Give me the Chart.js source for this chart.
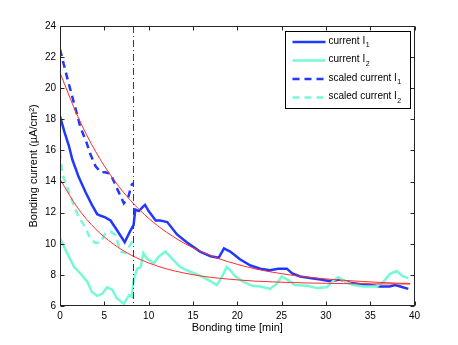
<!DOCTYPE html>
<html><head><meta charset="utf-8">
<script src="https://cdn.jsdelivr.net/npm/chart.js@4"></script>
<style>html,body{margin:0;padding:0;background:#fff;}#wrap{width:458px;height:345px;position:relative;}</style>
</head><body><div id="wrap"><canvas id="c" width="458" height="345"></canvas></div>
<script>
// ---- data ----
const i1Time   = [0,0.5,1.0,1.4,2.1,2.9,3.6,4.2,4.6,5.1,5.7,6.4,7.3,7.9,8.3,8.5,8.9,9.4,9.6,10.0,10.8,11.3,12.1,13.2,14.3,15.8,17.0,17.9,18.5,19.2,20.3,21.5,22.6,23.7,24.6,25.6,26.2,27.1,28.2,29.4,30.5,31.6,32.7,33.9,35.0,36.1,37.2,37.8,38.4,39.3];
const i1Values = [18.2,17.2,16.3,15.4,14.3,13.3,12.5,11.9,11.8,11.7,11.5,10.9,10.1,10.8,11.2,12.2,12.1,12.4,12.5,12.1,11.5,11.5,11.4,10.6,10.1,9.5,9.2,9.1,9.7,9.5,9.0,8.6,8.4,8.3,8.4,8.4,8.1,7.9,7.8,7.7,7.6,7.7,7.5,7.4,7.35,7.25,7.25,7.35,7.25,7.1];

const i2Time   = [0,0.8,1.6,2.3,3.1,3.6,4.2,4.8,5.3,5.9,6.4,7.2,7.8,8.1,8.3,8.7,9.1,9.4,9.8,10.6,11.1,11.9,12.8,13.6,14.7,15.8,16.8,17.7,18.3,18.8,19.2,19.8,20.7,21.7,22.6,23.7,24.5,25.0,25.8,26.5,27.9,29.0,30.1,30.9,31.4,32.2,33.1,34.2,35.7,36.5,37.2,38.0,38.7,39.3];
const i2Values = [10.35,9.4,8.5,8.1,7.55,6.9,6.65,6.8,7.2,7.05,6.5,6.15,6.7,6.6,7.65,8.4,8.5,9.4,9.05,8.75,9.15,9.5,8.95,8.5,8.2,7.95,7.65,7.35,7.9,8.5,8.3,7.9,7.55,7.3,7.25,7.1,7.45,7.9,7.65,7.35,7.3,7.15,7.2,7.65,7.85,7.55,7.35,7.25,7.25,7.55,8.05,8.25,7.9,7.8];

const scaledI1Time   = [0,0.8,1.6,2.3,3.0,3.4,4.0,4.6,5.1,5.7,6.4,7.2,7.7,8.1,8.25];
const scaledI1Values = [22.5,20.7,19.0,17.5,16.5,15.8,15.0,14.6,14.6,14.5,13.6,12.6,13.0,13.8,13.9];

const scaledI2Time   = [0,0.25,1.0,1.6,2.1,2.9,3.4,4.0,4.6,5.1,5.7,6.3,6.8,7.4,7.9,8.2];
const scaledI2Values = [15.9,14.5,13.35,12.4,11.75,11.0,10.35,10.05,10.1,10.65,10.8,10.55,9.5,9.4,9.9,10.15];

const fitTime  = [0,2,4,6,8,10,12,14,16,18,20,22,24,26,28,30,32,34,36,38,39.5];
const fitUpper = [21.0,18.19,15.95,14.17,12.76,11.64,10.75,10.04,9.48,9.03,8.68,8.39,8.17,7.99,7.85,7.74,7.65,7.58,7.52,7.47,7.45];
const fitLower = [14.15,12.30,10.96,9.99,9.28,8.77,8.39,8.12,7.92,7.78,7.68,7.60,7.55,7.51,7.48,7.46,7.44,7.43,7.42,7.42,7.41];

const markerTime = 8.25;
const legendLabels = ['current I','current I','scaled current I','scaled current I'];
const legendSubs   = ['1','2','1','2'];
const xTickStep = 5, yTickStep = 2;
const xMin = 0, xMax = 40, yMin = 6, yMax = 24;

// ---- styling ----
const BLUE = 'rgb(32,56,255)';
const CYAN = 'rgb(118,250,214)';
const RED = 'rgb(255,45,45)';
const FONT = "'Liberation Sans', Arial, Helvetica, sans-serif";
const pts = (t, v) => t.map((x, i) => ({x, y: v[i]}));

const legendStyles = [
  {color: BLUE, dash: []},
  {color: CYAN, dash: []},
  {color: BLUE, dash: [7,5]},
  {color: CYAN, dash: [7,5]}
];

const framePlugin = {
  id: 'frame',
  afterDatasetsDraw(chart) {
    const {ctx, chartArea: a, scales: {x}} = chart;
    const px = Math.round(x.getPixelForValue(markerTime)) + 0.5;
    ctx.save();
    ctx.strokeStyle = '#3a3a3a';
    ctx.lineWidth = 1;
    ctx.setLineDash([7,3,1,3]);
    ctx.beginPath(); ctx.moveTo(px, a.top); ctx.lineTo(px, a.bottom); ctx.stroke();
    ctx.restore();
  },
  afterDraw(chart) {
    const {ctx, chartArea: a, scales: {x, y}} = chart;
    ctx.save();
    ctx.strokeStyle = '#262626';
    ctx.lineWidth = 1;
    ctx.setLineDash([]);
    const L = Math.round(a.left) + 0.5, R = Math.round(a.right) - 0.5;
    const T = Math.round(a.top) + 0.5, B = Math.round(a.bottom) - 0.5;
    ctx.strokeRect(L, T, R - L, B - T);
    const tl = 4;
    ctx.beginPath();
    x.ticks.forEach(t => {
      const p = Math.round(x.getPixelForValue(t.value)) + 0.5;
      ctx.moveTo(p, B); ctx.lineTo(p, B - tl);
      ctx.moveTo(p, T); ctx.lineTo(p, T + tl);
    });
    y.ticks.forEach(t => {
      const p = Math.round(y.getPixelForValue(t.value)) + 0.5;
      ctx.moveTo(L, p); ctx.lineTo(L + tl, p);
      ctx.moveTo(R, p); ctx.lineTo(R - tl, p);
    });
    ctx.stroke();

    // legend
    const bw = 125, bh = 77;
    const bx = Math.round(a.right - 5 - bw) + 0.5, by = Math.round(a.top + 5) + 0.5;
    ctx.fillStyle = '#fff';
    ctx.fillRect(bx, by, bw, bh);
    ctx.strokeStyle = '#000';
    ctx.strokeRect(bx, by, bw, bh);
    legendLabels.forEach((lab, i) => {
      const ry = by + 10.5 + i * 18.5;
      const st = legendStyles[i];
      ctx.strokeStyle = st.color;
      ctx.lineWidth = 2.5;
      ctx.setLineDash(st.dash);
      ctx.beginPath(); ctx.moveTo(bx + 7, ry); ctx.lineTo(bx + 40, ry); ctx.stroke();
      ctx.setLineDash([]);
      ctx.fillStyle = '#000';
      ctx.textBaseline = 'middle';
      ctx.textAlign = 'left';
      ctx.font = '10px ' + FONT;
      ctx.fillText(lab, bx + 43, ry - 1);
      const w = ctx.measureText(lab).width;
      ctx.font = '7px ' + FONT;
      ctx.fillText(legendSubs[i], bx + 43 + w + 0.5, ry + 3.5);
    });
    ctx.restore();
  }
};

const lineDs = (label, t, v, color, width, dash) => ({
  label, data: pts(t, v), borderColor: color, backgroundColor: color,
  borderWidth: width, borderDash: dash, pointRadius: 0, tension: 0, fill: false
});

new Chart(document.getElementById('c'), {
  type: 'line',
  data: {
    datasets: [
      Object.assign(lineDs('fit I1', fitTime, fitUpper, RED, 1, []), {cubicInterpolationMode: 'monotone', order: 0}),
      Object.assign(lineDs('fit I2', fitTime, fitLower, RED, 1, []), {cubicInterpolationMode: 'monotone', order: 0}),
      Object.assign(lineDs('scaled current I2', scaledI2Time, scaledI2Values, CYAN, 2.5, [7,5]), {order: 1}),
      Object.assign(lineDs('scaled current I1', scaledI1Time, scaledI1Values, BLUE, 2.5, [7,5]), {order: 1}),
      Object.assign(lineDs('current I2', i2Time, i2Values, CYAN, 2.5, []), {order: 2}),
      Object.assign(lineDs('current I1', i1Time, i1Values, BLUE, 2.5, []), {order: 2})
    ]
  },
  options: {
    responsive: false,
    devicePixelRatio: 1,
    animation: false,
    layout: {padding: {left: 0, top: 26, right: 43.5, bottom: 0}},
    plugins: {legend: {display: false}, tooltip: {enabled: false}},
    scales: {
      x: {
        type: 'linear', min: xMin, max: xMax,
        grid: {display: false, drawTicks: false},
        border: {display: false},
        ticks: {stepSize: xTickStep, padding: 4, color: '#000', font: {family: FONT, size: 10}, maxRotation: 0},
        title: {display: true, text: 'Bonding time [min]', color: '#000', font: {family: FONT, size: 11}, padding: {top: 0, bottom: 10}},
        afterFit: s => { s.height = 39; }
      },
      y: {
        type: 'linear', min: yMin, max: yMax,
        grid: {display: false, drawTicks: false},
        border: {display: false},
        ticks: {stepSize: yTickStep, padding: 4, color: '#000', font: {family: FONT, size: 10}},
        title: {display: true, text: 'Bonding current (\u00B5A/cm\u00B2)', color: '#000', font: {family: FONT, size: 11}, padding: {top: 27, bottom: 0}},
        afterFit: s => { s.width = 60; }
      }
    }
  },
  plugins: [framePlugin]
});
</script>
</body></html>
